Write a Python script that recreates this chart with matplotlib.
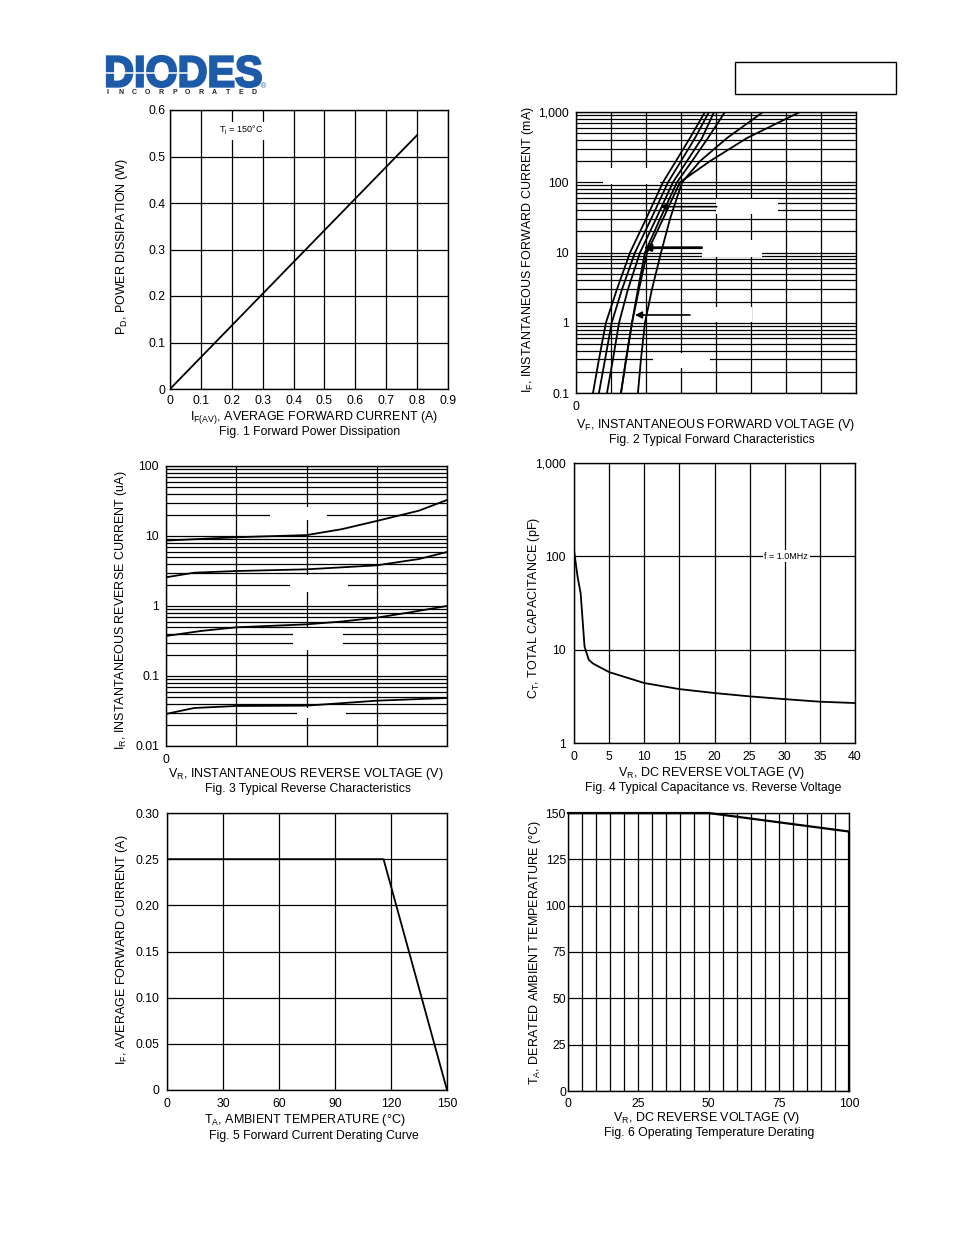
import numpy as np
import matplotlib
matplotlib.use('Agg')
import matplotlib.pyplot as plt
from matplotlib.patches import Rectangle, PathPatch
from matplotlib.textpath import TextPath
from matplotlib.font_manager import FontProperties
from matplotlib.transforms import Affine2D
from matplotlib.ticker import LogLocator, NullFormatter

plt.rcParams['font.family'] = ['Liberation Sans', 'DejaVu Sans']
plt.rcParams['mathtext.fontset'] = 'custom'
plt.rcParams['mathtext.rm'] = 'Liberation Sans'
plt.rcParams['mathtext.it'] = 'Liberation Sans:italic'
plt.rcParams['mathtext.bf'] = 'Liberation Sans:bold'

# ---------------- data ----------------
# Fig 1 forward power dissipation
f1_if = [0.0, 0.8]
f1_pd = [0.0, 0.546]
f1_xticks = [0, 0.1, 0.2, 0.3, 0.4, 0.5, 0.6, 0.7, 0.8, 0.9]
f1_xlabels = ['0', '0.1', '0.2', '0.3', '0.4', '0.5', '0.6', '0.7', '0.8', '0.9']
f1_yticks = [0, 0.1, 0.2, 0.3, 0.4, 0.5, 0.6]
f1_ylabels = ['0', '0.1', '0.2', '0.3', '0.4', '0.5', '0.6']

# Fig 2 forward characteristics (VF in V, IF in mA)
f2_if = [0.1, 0.3, 1, 3, 10, 30, 100, 200, 426, 1000]
f2_vf1 = [0.097, 0.131, 0.171, 0.234, 0.309, 0.400, 0.497, 0.571, 0.651, 0.737]
f2_vf2 = [0.131, 0.166, 0.204, 0.263, 0.337, 0.429, 0.526, 0.600, 0.680, 0.760]
f2_vf3 = [0.177, 0.211, 0.246, 0.297, 0.366, 0.457, 0.554, 0.634, 0.720, 0.789]
f2_vf4 = [0.257, 0.286, 0.320, 0.354, 0.394, 0.480, 0.577, 0.663, 0.754, 0.851]
f2_vf5 = [0.354, 0.371, 0.394, 0.434, 0.486, 0.537, 0.606, 0.709, 0.863, 1.069]
f2_vf6 = [0.257, 0.286, 0.320, 0.360, 0.406, 0.497, 0.594, 0.766, 0.977, 1.280]
f2_yticks = [0.1, 1, 10, 100, 1000]
f2_ylabels = ['0.1', '1', '10', '100', '1,000']
f2_xticks = [0, 0.2, 0.4, 0.6, 0.8, 1.0, 1.2, 1.4, 1.6]
f2_xlabels = ['0', '', '', '', '', '', '', '', '']

# Fig 3 reverse characteristics (VR in V, IR in uA)
f3_vr1 = [0, 10, 20, 25, 30, 36, 40]
f3_ir1 = [8.6, 9.6, 10.3, 12.5, 16.4, 23, 32.7]
f3_vr2 = [0, 4, 10, 20, 30, 36, 40]
f3_ir2 = [2.57, 2.99, 3.16, 3.34, 3.81, 4.69, 5.9]
f3_vr3 = [0, 5, 10, 20, 25, 30, 35, 40]
f3_ir3 = [0.373, 0.44, 0.496, 0.547, 0.60, 0.681, 0.82, 1.0]
f3_vr4 = [0, 4, 10, 20, 30, 40]
f3_ir4 = [0.0287, 0.0349, 0.0373, 0.0377, 0.0444, 0.0485]
f3_yticks = [0.01, 0.1, 1, 10, 100]
f3_ylabels = ['0.01', '0.1', '1', '10', '100']
f3_xticks = [0, 10, 20, 30, 40]
f3_xlabels = ['0', '', '', '', '']

# Fig 4 capacitance
f4_vr = [0, 0.5, 0.95, 1.5, 2.1, 2.7, 5, 10, 15, 20, 25, 30, 35, 40]
f4_ct = [117, 61, 40, 10.8, 7.8, 7.1, 5.75, 4.39, 3.78, 3.43, 3.16, 2.95, 2.77, 2.68]
f4_xticks = [0, 5, 10, 15, 20, 25, 30, 35, 40]
f4_yticks = [1, 10, 100, 1000]
f4_ylabels = ['1', '10', '100', '1,000']

# Fig 5 derating
f5_ta = [0, 116, 150]
f5_if = [0.25, 0.25, 0.0]
f5_xticks = [0, 30, 60, 90, 120, 150]
f5_yticks = [0, 0.05, 0.10, 0.15, 0.20, 0.25, 0.30]
f5_ylabels = ['0', '0.05', '0.10', '0.15', '0.20', '0.25', '0.30']

# Fig 6 operating temperature derating
f6_vr = [0, 50, 100, 100]
f6_ta = [150, 150, 140, 0]
f6_xticks = [0, 25, 50, 75, 100]
f6_yticks = [0, 25, 50, 75, 100, 125, 150]

# ---------------- figure ----------------
W, H = 954, 1235
fig = plt.figure(figsize=(W / 100, H / 100), dpi=100)
fig.patch.set_facecolor('white')


def add_ax(box):
    l, t, r, b = box
    return fig.add_axes([l / W, 1 - b / H, (r - l) / W, (b - t) / H])


def style(ax, ypad=4):
    ax.set_axisbelow(True)
    ax.tick_params(which='both', length=0, labelsize=8.8, pad=4, colors='black')
    ax.tick_params(axis='y', pad=ypad)
    for s in ax.spines.values():
        s.set_linewidth(1.0)
        s.set_color('black')


def white_patch(ax, box, x0, x1, y0, y1):
    l, t, r, b = box
    ax.add_patch(Rectangle(((x0 - l) / (r - l), (b - y1) / (b - t)),
                           (x1 - x0) / (r - l), (y1 - y0) / (b - t),
                           transform=ax.transAxes, fc='white', ec='none', zorder=1))


def ftext(x, y, s, size=9, rot=0, ha='center'):
    fig.text(x / W, 1 - y / H, s, fontsize=size, rotation=rot, ha=ha, va='center',
             rotation_mode='anchor' if rot else 'default')


GRID = dict(color='black', linewidth=0.9)
LW = 1.3

# Fig 1
B1 = (170, 110, 448, 389)
ax1 = add_ax(B1)
style(ax1, ypad=3.5)
ax1.plot(f1_if, f1_pd, color='black', lw=LW)
ax1.set_xlim(0, 0.9)
ax1.set_ylim(0, 0.6)
ax1.set_xticks(f1_xticks, f1_xlabels)
ax1.set_yticks(f1_yticks, f1_ylabels)
ax1.grid(True, **GRID)
ax1.text(0.23, 0.555, r'T$_\mathrm{j}$ = 150°C', fontsize=6.5, ha='center', va='center',
         bbox=dict(fc='white', ec='none', pad=1.5))
ftext(122, 247, r'P$_\mathrm{D}$, POWER DISSIPATION (W)', rot=90)
ftext(314, 418, r'I$_\mathrm{F(AV)}$, AVERAGE FORWARD CURRENT (A)')
ftext(310, 432, 'Fig. 1 Forward Power Dissipation', size=8.8)

# Fig 2
B2 = (576, 112, 856, 393)
ax2 = add_ax(B2)
style(ax2, ypad=5)
for vf in (f2_vf1, f2_vf2, f2_vf3, f2_vf4, f2_vf5, f2_vf6):
    ax2.plot(vf, f2_if, color='black', lw=LW, zorder=2)
ax2.set_yscale('log')
ax2.set_xlim(0, 1.6)
ax2.set_ylim(0.1, 1000)
ax2.set_xticks(f2_xticks, f2_xlabels)
ax2.set_yticks(f2_yticks, f2_ylabels)
ax2.yaxis.set_minor_locator(LogLocator(base=10, subs=np.arange(2, 10)))
ax2.yaxis.set_minor_formatter(NullFormatter())
ax2.grid(True, which='both', **GRID)
ax2.tick_params(axis='x', pad=6)
for (x0, x1, y0, y1) in [(603, 660, 168, 184), (716, 778, 199, 214), (702, 762, 240, 257),
                         (690, 752, 307, 322), (653, 710, 353, 368)]:
    white_patch(ax2, B2, x0, x1, y0, y1)
for tail, tip, lw in [((0.804, 44.9), (0.48, 44.9), 1.2),
                      ((0.718, 11.7), (0.385, 11.7), 2.0),
                      ((0.651, 1.29), (0.337, 1.29), 1.2)]:
    ax2.annotate('', xy=tip, xytext=tail,
                 arrowprops=dict(arrowstyle='-|>', color='black', lw=lw, mutation_scale=10,
                                 shrinkA=0, shrinkB=0), zorder=3)
ftext(528, 250, r'I$_\mathrm{F}$, INSTANTANEOUS FORWARD CURRENT (mA)', rot=90)
ftext(716, 425, r'V$_\mathrm{F}$, INSTANTANEOUS FORWARD VOLTAGE (V)')
ftext(712, 440, 'Fig. 2 Typical Forward Characteristics', size=8.8)

# Fig 3
B3 = (166, 466, 447, 746)
ax3 = add_ax(B3)
style(ax3, ypad=5)
for vr, ir in ((f3_vr1, f3_ir1), (f3_vr2, f3_ir2), (f3_vr3, f3_ir3), (f3_vr4, f3_ir4)):
    ax3.plot(vr, ir, color='black', lw=LW, zorder=2)
ax3.set_yscale('log')
ax3.set_xlim(0, 40)
ax3.set_ylim(0.01, 100)
ax3.set_xticks(f3_xticks, f3_xlabels)
ax3.set_yticks(f3_yticks, f3_ylabels)
ax3.yaxis.set_minor_locator(LogLocator(base=10, subs=np.arange(2, 10)))
ax3.yaxis.set_minor_formatter(NullFormatter())
ax3.grid(True, which='both', **GRID)
ax3.tick_params(axis='x', pad=6)
for (x0, x1, y0, y1) in [(270, 327, 507, 520), (290, 348, 575, 592), (293, 343, 628, 650),
                         (297, 346, 708, 718)]:
    white_patch(ax3, B3, x0, x1, y0, y1)
ftext(121, 610, r'I$_\mathrm{R}$, INSTANTANEOUS REVERSE CURRENT (uA)', rot=90)
ftext(306, 774, r'V$_\mathrm{R}$, INSTANTANEOUS REVERSE VOLTAGE (V)')
ftext(308, 789, 'Fig. 3 Typical Reverse Characteristics', size=8.8)

# Fig 4
B4 = (574, 463, 855, 743)
ax4 = add_ax(B4)
style(ax4, ypad=6)
ax4.plot(f4_vr, f4_ct, color='black', lw=LW)
ax4.set_yscale('log')
ax4.set_xlim(0, 40)
ax4.set_ylim(1, 1000)
ax4.set_xticks(f4_xticks, [str(v) for v in f4_xticks])
ax4.set_yticks(f4_yticks, f4_ylabels)
ax4.yaxis.set_minor_locator(LogLocator(base=10, subs=np.arange(2, 10)))
ax4.yaxis.set_minor_formatter(NullFormatter())
ax4.grid(True, which='major', **GRID)
ax4.tick_params(axis='x', pad=6)
ax4.text(30.2, 100, 'f = 1.0MHz', fontsize=6.5, ha='center', va='center',
         bbox=dict(fc='white', ec='none', pad=1.2))
ftext(534, 608, r'C$_\mathrm{T}$, TOTAL CAPACITANCE (pF)', rot=90)
ftext(712, 773, r'V$_\mathrm{R}$, DC REVERSE VOLTAGE (V)')
ftext(713, 788, 'Fig. 4 Typical Capacitance vs. Reverse Voltage', size=8.8)

# Fig 5
B5 = (167, 813, 447, 1090)
ax5 = add_ax(B5)
style(ax5, ypad=5.5)
ax5.plot(f5_ta, f5_if, color='black', lw=LW)
ax5.set_xlim(0, 150)
ax5.set_ylim(0, 0.30)
ax5.set_xticks(f5_xticks, [str(v) for v in f5_xticks])
ax5.set_yticks(f5_yticks, f5_ylabels)
ax5.grid(True, **GRID)
ax5.tick_params(axis='x', pad=6)
ftext(122, 950, r'I$_\mathrm{F}$, AVERAGE FORWARD CURRENT (A)', rot=90)
ftext(305, 1120, r'T$_\mathrm{A}$, AMBIENT TEMPERATURE (°C)')
ftext(314, 1136, 'Fig. 5 Forward Current Derating Curve', size=8.8)

# Fig 6
B6 = (568, 813, 849, 1091)
ax6 = add_ax(B6)
style(ax6, ypad=1.5)
ax6.plot(f6_vr, f6_ta, color='black', lw=1.6, clip_on=False)
ax6.set_xlim(0, 100)
ax6.set_ylim(0, 150)
ax6.set_xticks(np.arange(0, 101, 5), minor=True)
ax6.set_xticks(f6_xticks, [str(v) for v in f6_xticks])
ax6.set_yticks(f6_yticks, [str(v) for v in f6_yticks])
ax6.grid(True, which='both', axis='x', **GRID)
ax6.grid(True, which='major', axis='y', **GRID)
ax6.tick_params(axis='x', pad=5)
ftext(535, 953, r'T$_\mathrm{A}$, DERATED AMBIENT TEMPERATURE (°C)', rot=90)
ftext(707, 1118, r'V$_\mathrm{R}$, DC REVERSE VOLTAGE (V)')
ftext(709, 1133, 'Fig. 6 Operating Temperature Derating', size=8.8)

# ---------------- header (logo + box) ----------------
ov = fig.add_axes([0, 0, 1, 1], zorder=-1)
ov.set_xlim(0, W)
ov.set_ylim(H, 0)
ov.axis('off')
ov.patch.set_visible(False)
tp = TextPath((0, 0), 'DIODES', size=1,
              prop=FontProperties(family='Liberation Sans', weight='bold'))
ext = tp.get_extents()
sx = (261 - 107) / ext.width
sy = (87 - 56) / ext.height
tr = Affine2D().translate(-ext.x0, -ext.y0).scale(sx, -sy).translate(107, 87) + ov.transData
ov.add_patch(PathPatch(tp, transform=tr, fc='#1d5ba8', ec='#1d5ba8', lw=1.6, joinstyle='miter'))
ov.plot([105, 190], [72.7, 72.7], color='white', lw=1.1)
letters = 'INCORPORATED'
for i, ch in enumerate(letters):
    ov.text(108 + i * 13.3, 92.5, ch, fontsize=5, weight='bold', color='#222222',
            ha='center', va='center')
ov.text(264, 87, '®', fontsize=5, color='#1d5ba8', ha='center', va='center')
ov.add_patch(Rectangle((735, 62), 161, 32, fill=False, ec='black', lw=1.0))

fig.savefig('out.png', dpi=100, facecolor='white')
